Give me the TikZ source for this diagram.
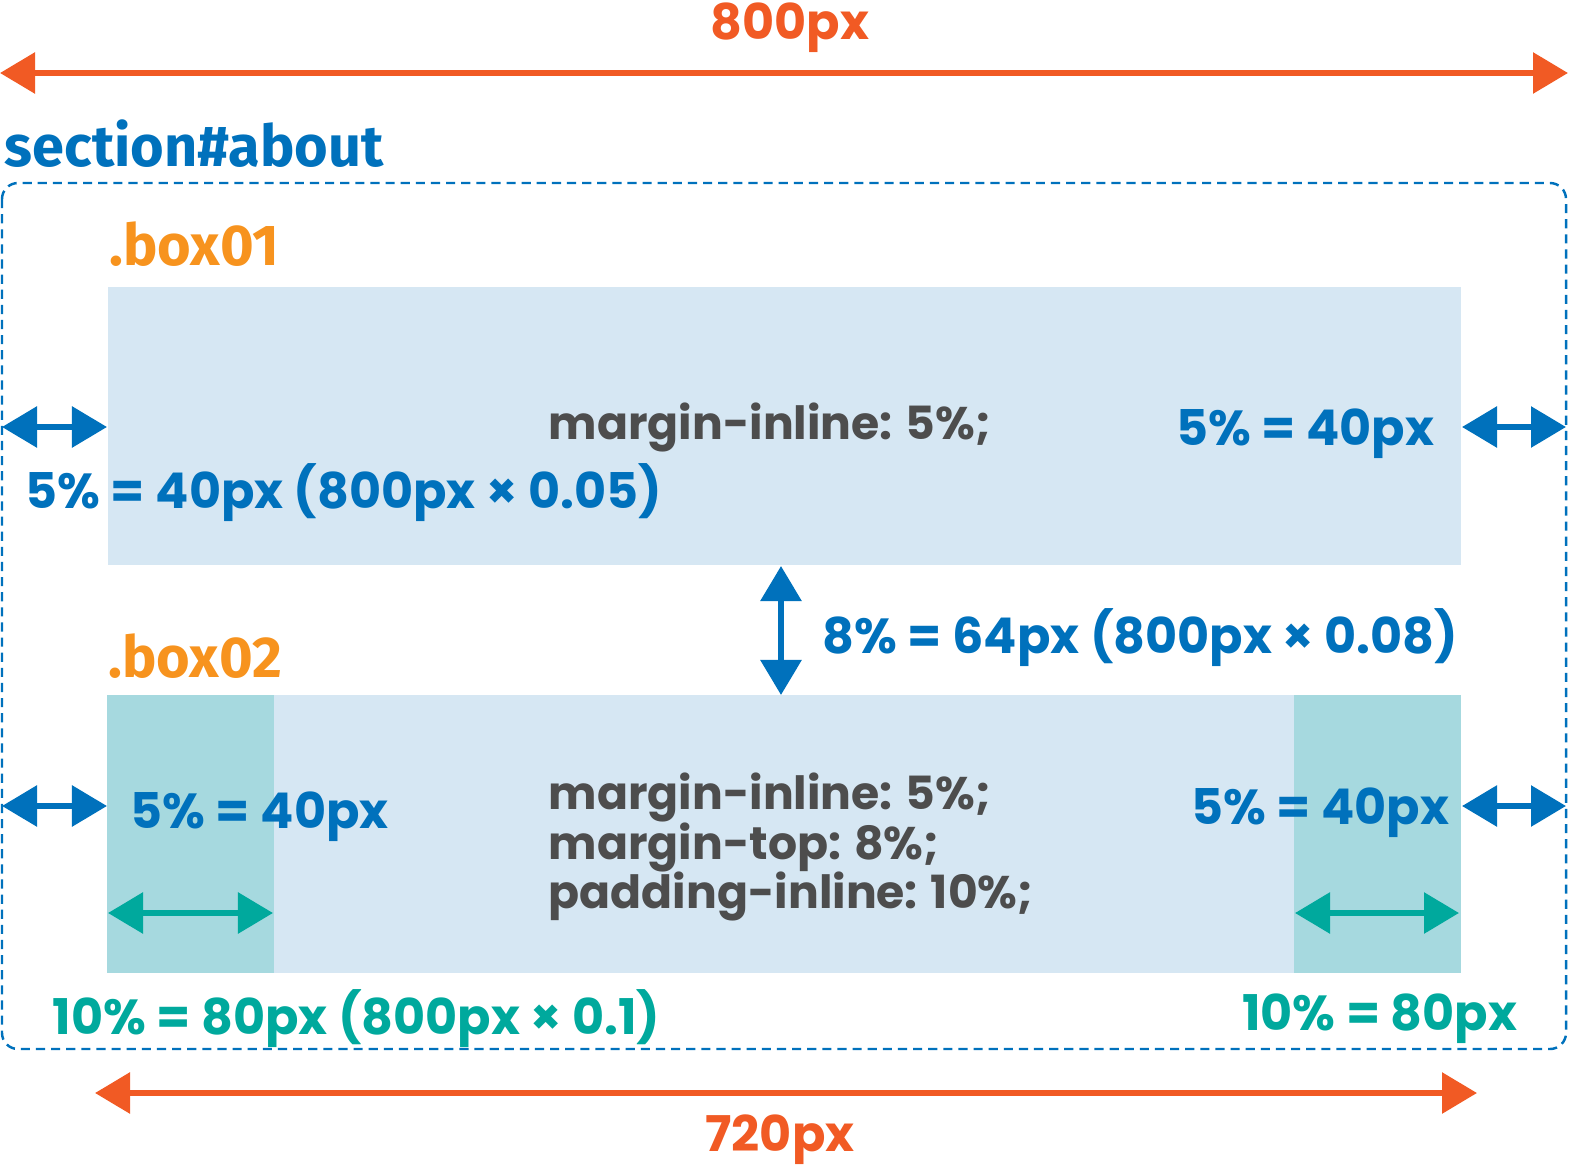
\documentclass[tikz,border=0pt]{standalone}
\usepackage{fontspec}
\setmainfont{Poppins}
\newfontfamily\labelfont{Fira Sans}
\usetikzlibrary{arrows.meta}
\definecolor{dimorange}{RGB}{241,90,36}
\definecolor{boxorange}{RGB}{247,147,30}
\definecolor{cssblue}{RGB}{0,113,188}
\definecolor{codegray}{RGB}{77,77,77}
\definecolor{boxfill}{RGB}{214,231,243}
\definecolor{padfill}{RGB}{166,217,223}
\definecolor{padteal}{RGB}{0,169,157}

\begin{document}
\begin{tikzpicture}[x=0.01cm, y=-0.01cm,
  dim/.style={{Triangle[length=0.35cm,width=0.4cm]}-{Triangle[length=0.35cm,width=0.4cm]}, line width=0.06cm},
  orangedim/.style={dim, dimorange},
  bluedim/.style={dim, cssblue},
  tealdim/.style={dim, padteal},
  sel/.style={font=\labelfont\fontsize{16.4}{20}\selectfont\bfseries, inner sep=0pt, anchor=west},
  val/.style={font=\fontsize{14}{16}\selectfont\bfseries, inner sep=0pt},
  code/.style={font=\fontsize{13}{14.2}\selectfont\bfseries, text=codegray, inner sep=0pt, anchor=west, align=left},
]
  \useasboundingbox (0,0) rectangle (1573,1176);

  % overall width
  \coordinate (top l) at (0,73);
  \coordinate (top r) at (1568,73);
  \draw[orangedim] (top l) -- (top r);
  \node[val, text=dimorange] (w800) at (790,28) {800px};

  % section#about
  \node[sel, text=cssblue] (secname) at (4,144) {section\#about};
  \draw[cssblue, dash pattern=on 2.6pt off 1.7pt, line width=0.7pt, rounded corners=0.16cm]
    (2,183) rectangle (1566,1049);

  % .box01
  \node[sel, text=boxorange] (b1name) at (109,244) {.box01};
  \fill[boxfill] (108,287) rectangle (1461,565);
  \node[code] (b1code) at (548,427) {margin-inline: 5\%;};
  \coordinate (b1 ll) at (2,427);
  \coordinate (b1 lr) at (107,427);
  \coordinate (b1 rl) at (1462,427);
  \coordinate (b1 rr) at (1566,427);
  \draw[bluedim] (b1 ll) -- (b1 lr);
  \draw[bluedim] (b1 rl) -- (b1 rr);
  \node[val, text=cssblue, anchor=west] (b1left) at (25,493) {5\% = 40px (800px × 0.05)};
  \node[val, text=cssblue, anchor=east] (b1right) at (1435,434) {5\% = 40px};

  % gap between the boxes
  \coordinate (gap t) at (781,566);
  \coordinate (gap b) at (781,695);
  \draw[bluedim] (gap t) -- (gap b);
  \node[val, text=cssblue, anchor=west] (gaptxt) at (822,638) {8\% = 64px (800px × 0.08)};

  % .box02
  \node[sel, text=boxorange] (b2name) at (108,656) {.box02};
  \fill[boxfill] (107,695) rectangle (1461,973);
  \fill[padfill] (107,695) rectangle (274,973);
  \fill[padfill] (1294,695) rectangle (1461,973);
  \node[code] (b2code) at (548,847) {margin-inline: 5\%;\\margin-top: 8\%;\\padding-inline: 10\%;};
  \coordinate (b2 ll) at (2,806);
  \coordinate (b2 lr) at (107,806);
  \coordinate (b2 rl) at (1462,806);
  \coordinate (b2 rr) at (1566,806);
  \draw[bluedim] (b2 ll) -- (b2 lr);
  \draw[bluedim] (b2 rl) -- (b2 rr);
  \node[val, text=cssblue, anchor=west] (b2left) at (130,817) {5\% = 40px};
  \node[val, text=cssblue, anchor=east] (b2right) at (1450,813) {5\% = 40px};
  \coordinate (pad ll) at (108,913);
  \coordinate (pad lr) at (273,913);
  \coordinate (pad rl) at (1295,913);
  \coordinate (pad rr) at (1459,913);
  \draw[tealdim] (pad ll) -- (pad lr);
  \draw[tealdim] (pad rl) -- (pad rr);
  \node[val, text=padteal, anchor=west] (padleft) at (52,1019) {10\% = 80px (800px × 0.1)};
  \node[val, text=padteal, anchor=east] (padright) at (1518,1019) {10\% = 80px};

  % content width
  \coordinate (bot l) at (95,1093);
  \coordinate (bot r) at (1477,1093);
  \draw[orangedim] (bot l) -- (bot r);
  \node[val, text=dimorange] (w720) at (780,1140) {720px};
\end{tikzpicture}
\end{document}
